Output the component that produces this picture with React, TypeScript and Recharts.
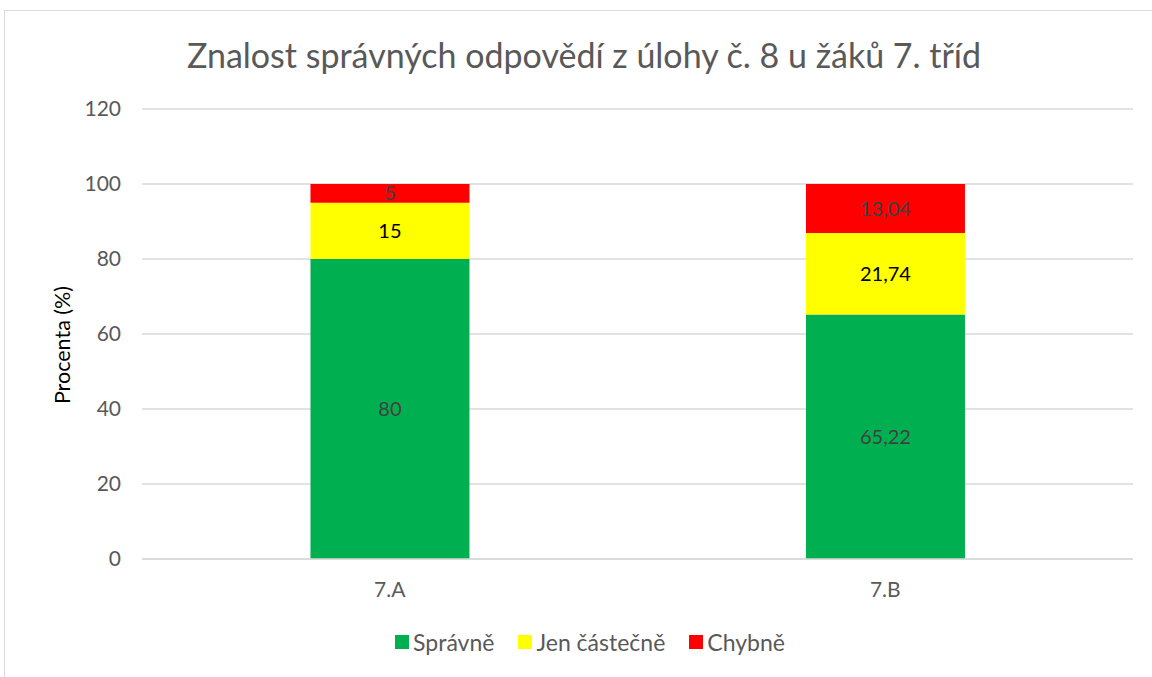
import { BarChart, Bar, XAxis, YAxis, CartesianGrid, LabelList } from "recharts";

const categories = ["7.A", "7.B"];
const spravne = [80, 65.22];
const castecne = [15, 21.74];
const chybne = [5, 13.04];
const yTicks = [0, 20, 40, 60, 80, 100, 120];

const series = [
  { key: "spravne", name: "Správně", color: "#00b050", labelColor: "#404040" },
  { key: "castecne", name: "Jen částečně", color: "#ffff00", labelColor: "#000" },
  { key: "chybne", name: "Chybně", color: "#ff0000", labelColor: "#404040" },
];

const data = categories.map((name, i) => ({
  name,
  spravne: spravne[i],
  castecne: castecne[i],
  chybne: chybne[i],
}));

const FONT = "Lato, 'Liberation Sans', sans-serif";
const fmt = (v: any) => String(v).replace(".", ",");

export default function App() {
  return (
    <div style={{ position: "absolute", left: 0, top: 0, width: 1152, height: 677, background: "#fff", fontFamily: FONT, overflow: "hidden" }}>
      <div style={{ position: "absolute", left: 4, top: 10, width: 1160, height: 700, border: "1px solid #d9d9d9" }} />
      <div style={{ position: "absolute", left: 0, top: 33, width: 1168, textAlign: "center", fontSize: 34, color: "#595959", lineHeight: "44px" }}>
        Znalost správných odpovědí z úlohy č. 8 u žáků 7. tříd
      </div>
      <div style={{ position: "absolute", left: 62, top: 345, transform: "translate(-50%, -50%) rotate(-90deg)", fontSize: 21.5, color: "#000", whiteSpace: "nowrap" }}>
        Procenta (%)
      </div>
      <BarChart
        width={1152}
        height={677}
        data={data}
        margin={{ top: 109, right: 19, left: 0, bottom: 88 }}
        barCategoryGap="34%"
        style={{ position: "absolute", left: 0, top: 0 }}
      >
        <CartesianGrid vertical={false} stroke="#d9d9d9" strokeWidth={1.5} />
        <XAxis
          dataKey="name"
          height={30}
          axisLine={{ stroke: "#d9d9d9", strokeWidth: 1.5 }}
          tickLine={false}
          tickSize={0}
          tickMargin={23}
          tick={{ fill: "#595959", fontSize: 21, fontFamily: FONT }}
        />
        <YAxis
          width={142}
          domain={[0, 120]}
          ticks={yTicks}
          axisLine={false}
          tickLine={false}
          tickSize={0}
          tickMargin={21}
          tick={{ fill: "#595959", fontSize: 21, fontFamily: FONT }}
        />
        {series.map((s) => (
          <Bar key={s.key} dataKey={s.key} name={s.name} stackId="a" fill={s.color} isAnimationActive={false}>
            <LabelList dataKey={s.key} position="center" formatter={fmt} fill={s.labelColor} fontSize={20} fontFamily={FONT} />
          </Bar>
        ))}
      </BarChart>
      <div style={{ position: "absolute", left: 0, top: 628, width: 1180, display: "flex", justifyContent: "center", gap: 24, fontSize: 23, color: "#595959" }}>
        {series.map((s) => (
          <div key={s.key} style={{ display: "flex", alignItems: "center", gap: 4 }}>
            <span style={{ width: 14, height: 14, background: s.color, display: "inline-block" }} />
            <span>{s.name}</span>
          </div>
        ))}
      </div>
    </div>
  );
}
